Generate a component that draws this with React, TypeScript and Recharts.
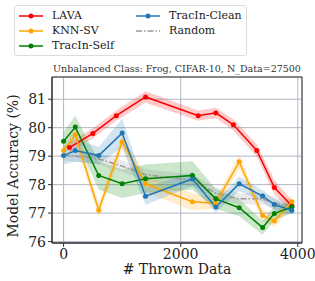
import React from 'react'
import { ComposedChart, Line, Area, XAxis, YAxis, CartesianGrid, ReferenceArea } from 'recharts'

// thrown-data counts
const xCommon = [0, 200, 600, 1000, 1400, 2200, 2600, 3000, 3400, 3600, 3900]
const xLava = [100, 500, 900, 1400, 2300, 2600, 2900, 3300, 3600, 3900]

const lavaMean = [79.3, 79.8, 80.42, 81.08, 80.42, 80.52, 80.1, 79.2, 77.9, 77.25]
const lavaErr = [0.18, 0.18, 0.18, 0.2, 0.18, 0.18, 0.2, 0.22, 0.25, 0.2]

const knnMean = [79.2, 79.75, 77.1, 79.5, 78.03, 77.4, 77.35, 78.8, 76.92, 76.72, 77.4]
const knnErr = [0.15, 0.25, 0.25, 0.25, 0.3, 0.3, 0.2, 0.25, 0.2, 0.2, 0.25]

const selfMean = [79.52, 80.02, 78.32, 78.03, 78.21, 78.32, 77.5, 77.19, 76.49, 76.99, 77.21]
const selfErr = [0.35, 0.4, 0.5, 0.5, 0.5, 0.5, 0.35, 0.3, 0.25, 0.25, 0.2]

const cleanMean = [79.02, 79.2, 79.02, 79.81, 77.59, 78.2, 77.21, 78.03, 77.6, 77.3, 77.09]
const cleanErr = [0.3, 0.4, 0.3, 0.5, 0.3, 0.25, 0.2, 0.25, 0.2, 0.2, 0.15]

const randomMean = [79.05, 79.0, 78.9, 78.65, 78.35, 78.15, 77.7, 77.5, 77.5, 77.35, 77.25]
const randomErr = [0.2, 0.2, 0.2, 0.2, 0.2, 0.2, 0.2, 0.2, 0.2, 0.2, 0.2]

const xTicks = [0, 2000, 4000]
const yTicks = [76, 77, 78, 79, 80, 81]

function build(xs: number[], mean: number[], err: number[]) {
  return xs.map((x, i) => ({ x, y: mean[i], lo: mean[i] - err[i], hi: mean[i] + err[i] }))
}

const series = [
  { name: 'LAVA', color: '#ff0000', data: build(xLava, lavaMean, lavaErr) },
  { name: 'KNN-SV', color: '#ffa500', data: build(xCommon, knnMean, knnErr) },
  { name: 'TracIn-Self', color: '#008000', data: build(xCommon, selfMean, selfErr) },
  { name: 'TracIn-Clean', color: '#1f77b4', data: build(xCommon, cleanMean, cleanErr) },
]
const randomData = build(xCommon, randomMean, randomErr)

const font = 'DejaVu Serif'
const X_DOMAIN = [-198, 4072]
const Y_DOMAIN = [75.95, 81.78]

function LegendItem({ label, color, dashed }: { label: string; color: string; dashed?: boolean }) {
  return (
    <div style={{ display: 'flex', alignItems: 'center', height: 15 }}>
      <svg width={24} height={8} style={{ marginRight: 9 }}>
        {dashed ? (
          <line x1={0} y1={4} x2={24} y2={4} stroke="#999" strokeWidth={1.5} strokeDasharray="6 2 1.5 2" />
        ) : (
          <>
            <line x1={0} y1={4} x2={24} y2={4} stroke={color} strokeWidth={1.5} />
            <circle cx={12} cy={4} r={2.5} fill={color} />
          </>
        )}
      </svg>
      <span>{label}</span>
    </div>
  )
}

export default function App() {
  return (
    <div style={{ position: 'absolute', left: 0, top: 0, width: 315, height: 281, background: '#fff', fontFamily: font }}>
      <ComposedChart width={315} height={281} margin={{ top: 77, right: 13, bottom: 0, left: 0 }}>
        <CartesianGrid stroke="#b0b7c3" strokeWidth={1} />
        <XAxis
          type="number"
          dataKey="x"
          domain={X_DOMAIN}
          ticks={xTicks}
          allowDataOverflow
          height={38}
          tickSize={4}
          tickLine={{ stroke: '#333' }}
          axisLine={{ stroke: '#333' }}
          tick={{ fill: '#222', fontSize: 14, fontFamily: font }}
        />
        <YAxis
          type="number"
          domain={Y_DOMAIN}
          ticks={yTicks}
          allowDataOverflow
          width={52}
          tickSize={4}
          tickLine={{ stroke: '#333' }}
          axisLine={{ stroke: '#333' }}
          tick={{ fill: '#222', fontSize: 14, fontFamily: font }}
        />
        <Area
          data={randomData}
          dataKey={(d: any) => [d.lo, d.hi]}
          type="linear"
          stroke="none"
          fill="#999999"
          fillOpacity={0.2}
          isAnimationActive={false}
          dot={false}
          activeDot={false}
        />
        {series.map((s) => (
          <Area
            key={s.name + '-band'}
            data={s.data}
            dataKey={(d: any) => [d.lo, d.hi]}
            type="linear"
            stroke="none"
            fill={s.color}
            fillOpacity={0.2}
            isAnimationActive={false}
            dot={false}
            activeDot={false}
          />
        ))}
        <Line
          data={randomData}
          dataKey="y"
          type="linear"
          stroke="#999"
          strokeWidth={1.5}
          strokeDasharray="6 2 1.5 2"
          dot={false}
          activeDot={false}
          isAnimationActive={false}
        />
        {series.map((s) => (
          <Line
            key={s.name}
            data={s.data}
            dataKey="y"
            type="linear"
            stroke={s.color}
            strokeWidth={1.5}
            dot={{ r: 2.5, fill: s.color, stroke: s.color, strokeWidth: 0 }}
            activeDot={false}
            isAnimationActive={false}
          />
        ))}
        <ReferenceArea x1={X_DOMAIN[0]} x2={X_DOMAIN[1]} y1={Y_DOMAIN[0]} y2={Y_DOMAIN[1]} fill="none" stroke="#333" strokeWidth={1} />
      </ComposedChart>

      <div style={{ position: 'absolute', left: 14, top: 5, width: 233, height: 51, border: '1px solid #ddd', borderRadius: 3, boxSizing: 'border-box', fontSize: 11, color: '#222', display: 'flex', padding: '2px 0 0 4px' }}>
        <div style={{ width: 117 }}>
          <LegendItem label="LAVA" color="#ff0000" />
          <LegendItem label="KNN-SV" color="#ffa500" />
          <LegendItem label="TracIn-Self" color="#008000" />
        </div>
        <div>
          <LegendItem label="TracIn-Clean" color="#1f77b4" />
          <LegendItem label="Random" color="#999" dashed />
        </div>
      </div>

      <div style={{ position: 'absolute', left: 0, width: 354, top: 63, textAlign: 'center', fontSize: 9.5, color: '#333', whiteSpace: 'nowrap' }}>
        Unbalanced Class: Frog, CIFAR-10, N_Data=27500
      </div>

      <div style={{ position: 'absolute', left: 52, width: 250, top: 261, textAlign: 'center', fontSize: 14, color: '#222', whiteSpace: 'nowrap' }}>
        # Thrown Data
      </div>

      <div style={{ position: 'absolute', left: 13, top: 166, transform: 'translate(-50%, -50%) rotate(-90deg)', fontSize: 14, color: '#222', whiteSpace: 'nowrap' }}>
        Model Accuracy (%)
      </div>
    </div>
  )
}
